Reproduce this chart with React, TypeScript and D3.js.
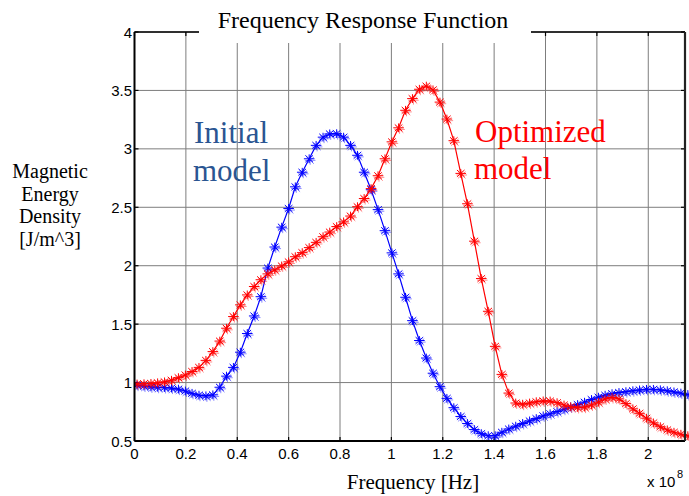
import React from "react";
import * as d3 from "d3";

// Frequency (x 1e8 Hz)
const freq = [
  0.010, 0.037, 0.064, 0.090, 0.117, 0.144, 0.171, 0.198, 0.224, 0.251,
  0.278, 0.305, 0.332, 0.358, 0.385, 0.412, 0.439, 0.466, 0.492, 0.519,
  0.546, 0.573, 0.600, 0.626, 0.653, 0.680, 0.707, 0.734, 0.760, 0.787,
  0.814, 0.841, 0.868, 0.894, 0.921, 0.948, 0.975, 1.002, 1.028, 1.055,
  1.082, 1.109, 1.136, 1.162, 1.189, 1.216, 1.243, 1.270, 1.296, 1.323,
  1.350, 1.377, 1.404, 1.430, 1.457, 1.484, 1.511, 1.538, 1.564, 1.591,
  1.618, 1.645, 1.672, 1.698, 1.725, 1.752, 1.779, 1.806, 1.832, 1.859,
  1.886, 1.913, 1.940, 1.966, 1.993, 2.020, 2.047, 2.074, 2.100, 2.127,
  2.154,
];

const initialModel = [
  0.978, 0.970, 0.963, 0.960, 0.958, 0.953, 0.944, 0.928, 0.908, 0.892,
  0.886, 0.895, 0.960, 1.055, 1.130, 1.260, 1.420, 1.570, 1.735, 1.980,
  2.160, 2.330, 2.490, 2.675, 2.800, 2.915, 3.030, 3.100, 3.128, 3.130,
  3.100, 3.030, 2.945, 2.800, 2.650, 2.480, 2.300, 2.110, 1.930, 1.730,
  1.530, 1.360, 1.210, 1.080, 0.965, 0.865, 0.785, 0.710, 0.650, 0.598,
  0.563, 0.545, 0.545, 0.575, 0.603, 0.627, 0.650, 0.672, 0.692, 0.715,
  0.733, 0.752, 0.772, 0.792, 0.812, 0.832, 0.855, 0.875, 0.892, 0.905,
  0.915, 0.922, 0.930, 0.937, 0.942, 0.942, 0.938, 0.930, 0.920, 0.910,
  0.898,
];

const optimizedModel = [
  0.988, 0.990, 0.993, 0.998, 1.006, 1.020, 1.042, 1.065, 1.095, 1.130,
  1.190, 1.265, 1.355, 1.465, 1.565, 1.665, 1.750, 1.822, 1.880, 1.930,
  1.965, 1.998, 2.033, 2.077, 2.112, 2.155, 2.200, 2.248, 2.288, 2.335,
  2.375, 2.425, 2.505, 2.575, 2.660, 2.770, 2.915, 3.060, 3.180, 3.330,
  3.430, 3.510, 3.537, 3.505, 3.400, 3.255, 3.070, 2.790, 2.530, 2.210,
  1.890, 1.610, 1.310, 1.070, 0.910, 0.825, 0.815, 0.825, 0.836, 0.843,
  0.842, 0.828, 0.808, 0.793, 0.787, 0.790, 0.808, 0.832, 0.860, 0.872,
  0.860, 0.820, 0.775, 0.737, 0.695, 0.655, 0.622, 0.595, 0.575, 0.558,
  0.545,
];

const xTicks = [0, 0.2, 0.4, 0.6, 0.8, 1, 1.2, 1.4, 1.6, 1.8, 2];
const xTickLabels = ["0", "0.2", "0.4", "0.6", "0.8", "1", "1.2", "1.4", "1.6", "1.8", "2"];
const yTicks = [0.5, 1, 1.5, 2, 2.5, 3, 3.5, 4];
const yTickLabels = ["0.5", "1", "1.5", "2", "2.5", "3", "3.5", "4"];

const title = "Frequency Response Function";
const xLabel = "Frequency [Hz]";
const yLabelLines = ["Magnetic", "Energy", "Density", "[J/m^3]"];

const W = 689;
const H = 496;
const L = 134.5, R = 685, T = 32, B = 441;

const serif = "'Liberation Serif', 'Times New Roman', serif";
const sans = "'Liberation Sans', Arial, sans-serif";

function Star({ x, y, color }: { x: number; y: number; color: string }) {
  const rx = 5.3, ry = 4.4, dx = 3.8, dy = 3.4;
  const d = `M${x - rx},${y}L${x + rx},${y}M${x},${y - ry}L${x},${y + ry}M${x - dx},${y - dy}L${x + dx},${y + dy}M${x - dx},${y + dy}L${x + dx},${y - dy}`;
  return (
    <g>
      <path d={d} transform="translate(1,1.6)" stroke={color} strokeWidth={1} fill="none" opacity={0.45} />
      <path d={d} stroke={color} strokeWidth={1} fill="none" />
    </g>
  );
}

export default function App() {
  const x = d3.scaleLinear().domain([0, 2.143]).range([L, R]);
  const y = d3.scaleLinear().domain([0.5, 4]).range([B, T]);
  const line = d3
    .line<number>()
    .x((_, i) => x(freq[i]))
    .y((v) => y(v))
    .curve(d3.curveLinear);

  const series = [
    { vals: initialModel, color: "#0000ff" },
    { vals: optimizedModel, color: "#ff0000" },
  ];

  return (
    <svg
      width={W}
      height={H}
      style={{ position: "absolute", left: 0, top: 0, display: "block", background: "#fff" }}
    >
      <defs>
        <clipPath id="plotclip">
          <rect x={L} y={T - 6} width={R - L + 4} height={B - T + 6} />
        </clipPath>
      </defs>
      <rect x={0} y={0} width={W} height={H} fill="#fff" />
      {/* grid */}
      {xTicks.map((t) => (
        <line key={"gx" + t} x1={x(t)} x2={x(t)} y1={T} y2={B} stroke="#7d7d7d" strokeWidth={1} />
      ))}
      {yTicks.map((t) => (
        <line key={"gy" + t} x1={L} x2={R} y1={y(t)} y2={y(t)} stroke="#7d7d7d" strokeWidth={1} />
      ))}
      {/* ticks inside */}
      {xTicks.map((t) => (
        <g key={"tx" + t}>
          <line x1={x(t)} x2={x(t)} y1={B} y2={B - 4} stroke="#000" strokeWidth={1.2} />
          <line x1={x(t)} x2={x(t)} y1={T} y2={T + 4} stroke="#000" strokeWidth={1.2} />
        </g>
      ))}
      {yTicks.map((t) => (
        <g key={"ty" + t}>
          <line x1={L} x2={L + 4} y1={y(t)} y2={y(t)} stroke="#000" strokeWidth={1.2} />
          <line x1={R} x2={R - 4} y1={y(t)} y2={y(t)} stroke="#000" strokeWidth={1.2} />
        </g>
      ))}
      {/* series */}
      <g clipPath="url(#plotclip)">
        {series.map((s, si) => (
          <g key={si}>
            <path d={line(s.vals) || ""} fill="none" stroke={s.color} strokeWidth={1.2} />
            {s.vals.map((v, i) => (
              <Star key={i} x={x(freq[i])} y={y(v)} color={s.color} />
            ))}
          </g>
        ))}
      </g>
      {/* axes box */}
      <line x1={L} x2={R} y1={T} y2={T} stroke="#000" strokeWidth={1.5} />
      <line x1={L} x2={R} y1={B} y2={B} stroke="#000" strokeWidth={2} />
      <line x1={L} x2={L} y1={T} y2={B} stroke="#000" strokeWidth={2} />
      <line x1={R} x2={R} y1={T} y2={B} stroke="#222" strokeWidth={2.2} />
      {/* title backing */}
      <rect x={199} y={0} width={332} height={43} fill="#fff" />
      <text x={363} y={28} textAnchor="middle" fontFamily={serif} fontSize={24} fill="#000">
        {title}
      </text>
      {/* tick labels */}
      {xTicks.map((t, i) => (
        <text key={"lx" + t} x={x(t)} y={459} textAnchor="middle" fontFamily={sans} fontSize={15} fill="#000">
          {xTickLabels[i]}
        </text>
      ))}
      {yTicks.map((t, i) => (
        <text key={"ly" + t} x={132} y={y(t) + 5.5} textAnchor="end" fontFamily={sans} fontSize={15} fill="#000">
          {yTickLabels[i]}
        </text>
      ))}
      <text x={647} y={487} fontFamily={sans} fontSize={15} fill="#000">
        x 10
      </text>
      <text x={677} y={478} fontFamily={sans} fontSize={11} fill="#000">
        8
      </text>
      {/* axis labels */}
      <text x={413} y={489} textAnchor="middle" fontFamily={serif} fontSize={21} fill="#000">
        {xLabel}
      </text>
      {yLabelLines.map((s, i) => (
        <text key={s} x={50} y={178 + i * 22.5} textAnchor="middle" fontFamily={serif} fontSize={20} fill="#000">
          {s}
        </text>
      ))}
      {/* annotations */}
      <text x={194} y={143} fontFamily={serif} fontSize={31} fill="#2a5592">Initial</text>
      <text x={193} y={181} fontFamily={serif} fontSize={31} fill="#2a5592">model</text>
      <text x={475} y={142} fontFamily={serif} fontSize={31} fill="#ff0000">Optimized</text>
      <text x={474} y={179} fontFamily={serif} fontSize={31} fill="#ff0000">model</text>
    </svg>
  );
}
